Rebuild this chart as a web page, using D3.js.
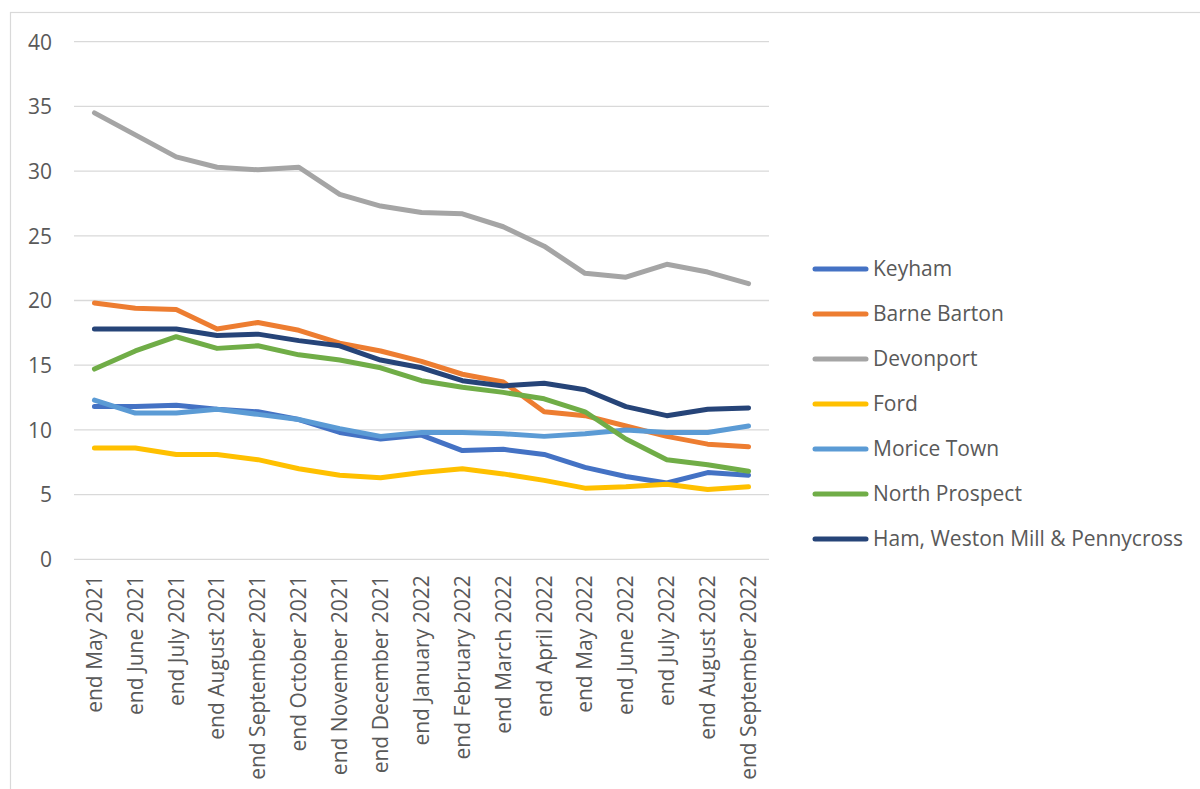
<!DOCTYPE html>
<html>
<head>
<meta charset="utf-8">
<script src="https://cdn.jsdelivr.net/npm/d3@7"></script>
<style>
  html, body { margin: 0; padding: 0; background: #fff; }
  svg { display: block; }
  text { font-family: "Open Sans", sans-serif; fill: #595959; }
</style>
</head>
<body>
<svg id="chart" width="1200" height="789"></svg>
<script>
const categories = ["end May 2021","end June 2021","end July 2021","end August 2021","end September 2021","end October 2021","end November 2021","end December 2021","end January 2022","end February 2022","end March 2022","end April 2022","end May 2022","end June 2022","end July 2022","end August 2022","end September 2022"];
const seriesNames = ["Keyham","Barne Barton","Devonport","Ford","Morice Town","North Prospect","Ham, Weston Mill & Pennycross"];
const seriesColors = ["#4472C4","#ED7D31","#A5A5A5","#FFC000","#5B9BD5","#70AD47","#264478"];
const keyham = [11.8,11.8,11.9,11.6,11.4,10.8,9.8,9.3,9.6,8.4,8.5,8.1,7.1,6.4,5.9,6.7,6.5];
const barneBarton = [19.8,19.4,19.3,17.8,18.3,17.7,16.7,16.1,15.3,14.3,13.7,11.4,11.1,10.3,9.5,8.9,8.7];
const devonport = [34.5,32.8,31.1,30.3,30.1,30.3,28.2,27.3,26.8,26.7,25.7,24.2,22.1,21.8,22.8,22.2,21.3];
const ford = [8.6,8.6,8.1,8.1,7.7,7.0,6.5,6.3,6.7,7.0,6.6,6.1,5.5,5.6,5.8,5.4,5.6];
const moriceTown = [12.3,11.3,11.3,11.6,11.2,10.8,10.1,9.5,9.8,9.8,9.7,9.5,9.7,10.0,9.8,9.8,10.3];
const northProspect = [14.7,16.1,17.2,16.3,16.5,15.8,15.4,14.8,13.8,13.3,12.9,12.4,11.4,9.3,7.7,7.3,6.8];
const hamWestonMill = [17.8,17.8,17.8,17.3,17.4,16.9,16.5,15.4,14.8,13.8,13.4,13.6,13.1,11.8,11.1,11.6,11.7];
const yTicks = [0,5,10,15,20,25,30,35,40];

const seriesValues = [keyham, barneBarton, devonport, ford, moriceTown, northProspect, hamWestonMill];

const svg = d3.select("#chart");
const FS = 21;
const FONT = "'Open Sans', sans-serif";

// chart border
svg.append("rect").attr("x", 10.5).attr("y", 12.5).attr("width", 1200).attr("height", 800)
  .attr("fill", "none").attr("stroke", "#d9d9d9").attr("stroke-width", 1.2);

const x = d3.scaleBand().domain(categories).range([74, 769]);
const y = d3.scaleLinear().domain([0, 40]).range([559.3, 41.7]);

// gridlines
svg.append("g").selectAll("line").data(yTicks).join("line")
  .attr("x1", 74).attr("x2", 769)
  .attr("y1", d => y(d)).attr("y2", d => y(d))
  .attr("stroke", "#d9d9d9").attr("stroke-width", 1.3);

// y axis labels
const yAxis = d3.axisLeft(y).tickValues(yTicks).tickSize(0).tickPadding(0);
const gy = svg.append("g").attr("transform", "translate(52,0)").call(yAxis);
gy.select(".domain").remove();
gy.selectAll("text").attr("font-size", FS).style("font-family", FONT).attr("fill", "#595959").attr("dy", "0.35em");

// x axis labels
const xAxis = d3.axisBottom(x).tickSize(0).tickPadding(0);
const gx = svg.append("g").attr("transform", "translate(0,559.3)").call(xAxis);
gx.select(".domain").remove();
gx.selectAll("text")
  .attr("font-size", FS).style("font-family", FONT).attr("fill", "#595959")
  .attr("text-anchor", "end")
  .attr("transform", "rotate(-90)")
  .attr("x", -16).attr("y", 0).attr("dy", "0.35em");

// lines
const line = d3.line().x((d, i) => x(categories[i]) + x.bandwidth() / 2).y(d => y(d));
svg.append("g").selectAll("path").data(seriesValues).join("path")
  .attr("d", d => line(d))
  .attr("fill", "none")
  .attr("stroke", (d, i) => seriesColors[i])
  .attr("stroke-width", 5)
  .attr("stroke-linecap", "round")
  .attr("stroke-linejoin", "round");

// legend
const lg = svg.append("g");
const items = lg.selectAll("g").data(seriesNames).join("g")
  .attr("transform", (d, i) => `translate(0,${269 + i * 45})`);
items.append("line").attr("x1", 815).attr("x2", 866).attr("y1", 0).attr("y2", 0)
  .attr("stroke", (d, i) => seriesColors[i]).attr("stroke-width", 5).attr("stroke-linecap", "round");
items.append("text").attr("x", 873).attr("y", 0).attr("dy", "0.35em")
  .attr("font-size", FS).style("font-family", FONT).text(d => d);
</script>
</body>
</html>
